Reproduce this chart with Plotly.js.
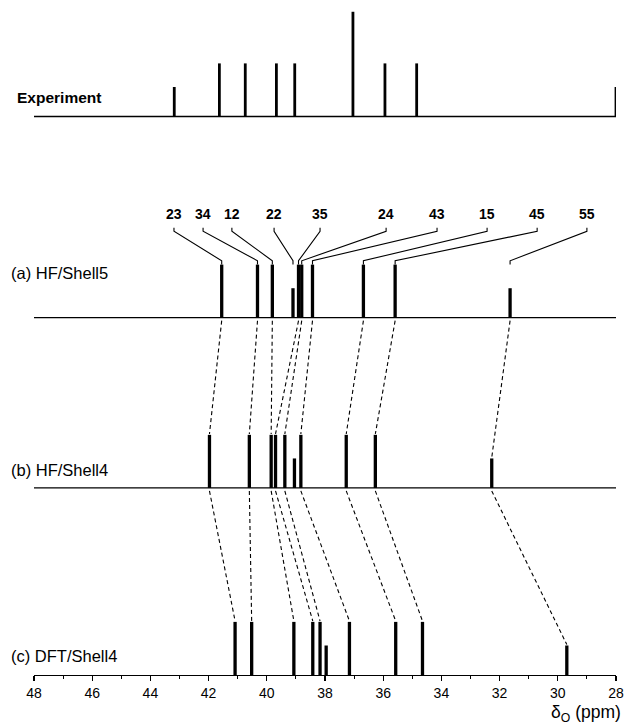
<!DOCTYPE html>
<html><head><meta charset="utf-8">
<script src="https://cdn.plot.ly/plotly-3.0.1.min.js"></script>
<style>html,body{margin:0;padding:0;background:#fff}#chart{width:626px;height:726px}</style>
</head><body><div id="chart"></div>
<script>
// ---- data ----
const oxygenLabels = ['23','34','12','22','35','24','43','15','45','55'];
const expShift     = [43.18, 41.63, 40.74, 39.67, 39.04, 37.04, 35.94, 34.85, 28.00];
const expIntensity = [1.0, 1.8, 1.8, 1.8, 1.8, 3.55, 1.8, 1.8, 1.0];
const hfShell5Shift  = [41.55, 40.32, 39.81, 39.10, 38.91, 38.80, 38.43, 36.68, 35.59, 31.64];
const hfShell4Shift  = [41.97, 40.60, 39.85, 39.05, 39.70, 39.38, 38.83, 37.27, 36.27, 32.27];
const dftShell4Shift = [41.09, 40.52, 39.07, 37.96, 38.42, 38.17, 37.16, 35.57, 34.65, 29.69];
const calcIntensity  = [1.8, 1.8, 1.8, 1.0, 1.8, 1.8, 1.8, 1.8, 1.8, 1.0];
const linked = [true, true, true, false, true, true, true, true, true, true];
const labelShift = [43.19, 42.19, 41.20, 39.75, 38.17, 35.90, 34.15, 32.43, 30.71, 29.00];
const xTicks = [48, 46, 44, 42, 40, 38, 36, 34, 32, 30, 28];

// ---- layout constants ----
const FONT = 'Liberation Sans, Arial, Helvetica, sans-serif';
const base = {exp: 18.93, a: 12.11, b: 6.34, c: 0};
const YMAX = 22.54;
const L = 34, R = 10, T = 10, B = 51, W = 626, H = 726;
const plotW = W - L - R, plotH = H - T - B;
const px2paperX = p => (p - L) / plotW;
const px2paperY = p => (H - B - p) / plotH;

function sticks(xs, hs, b0, w) {
  const x = [], y = [];
  xs.forEach((v, i) => { x.push(v, v, null); y.push(b0, b0 + hs[i], null); });
  return {type: 'scatter', mode: 'lines', x, y, line: {color: '#000', width: w},
          hoverinfo: 'skip', showlegend: false};
}
function baseline(b0) {
  return {type: 'scatter', mode: 'lines', x: [48, 28], y: [b0, b0],
          line: {color: '#000', width: 1.3}, hoverinfo: 'skip', showlegend: false};
}
function connectors(from, to, bFrom, bTo) {
  const x = [], y = [];
  from.forEach((v, i) => {
    if (!linked[i]) return;
    x.push(v, to[i], null);
    y.push(bFrom - 0.1, bTo + calcIntensity[i] + 0.03, null);
  });
  return {type: 'scatter', mode: 'lines', x, y,
          line: {color: '#000', width: 1.1, dash: '4px,3px'},
          hoverinfo: 'skip', showlegend: false};
}
function leaders() {
  const x = [], y = [];
  const yEnd = base.a + 1.8, yBend = yEnd + 0.13, yStart = yBend + 1.0, yTop = yStart + 0.12;
  hfShell5Shift.forEach((v, i) => {
    x.push(labelShift[i], labelShift[i], v, v, null);
    y.push(yTop, yStart, yBend, yEnd, null);
  });
  return {type: 'scatter', mode: 'lines', x, y, line: {color: '#000', width: 1.1},
          hoverinfo: 'skip', showlegend: false};
}

const traces = [
  baseline(base.exp), baseline(base.a), baseline(base.b),
  sticks(expShift, expIntensity, base.exp, 2.8),
  sticks(hfShell5Shift, calcIntensity, base.a, 3.3),
  sticks(hfShell4Shift, calcIntensity, base.b, 3.3),
  sticks(dftShell4Shift, calcIntensity, base.c, 3.3),
  connectors(hfShell5Shift, hfShell4Shift, base.a, base.b),
  connectors(hfShell4Shift, dftShell4Shift, base.b, base.c),
  leaders()
];

const annotations = [];
oxygenLabels.forEach((t, i) => annotations.push({
  x: labelShift[i], y: base.a + 1.8 + 0.13 + 1.0 + 0.12 + 0.48, xref: 'x', yref: 'y',
  text: '<b>' + t + '</b>', showarrow: false, xanchor: 'center', yanchor: 'middle',
  font: {family: FONT, size: 14, color: '#000'}
}));
const panelLabels = [
  {text: '<b>Experiment</b>', px: 15, py: 97, size: 15.5},
  {text: '(a) HF/Shell5', px: 9, py: 273, size: 16.5},
  {text: '(b) HF/Shell4', px: 9, py: 470, size: 16.5},
  {text: '(c) DFT/Shell4', px: 9, py: 656, size: 16.5}
];
panelLabels.forEach(p => annotations.push({
  x: px2paperX(p.px), y: px2paperY(p.py), xref: 'paper', yref: 'paper',
  text: p.text, showarrow: false, xanchor: 'left', yanchor: 'middle',
  font: {family: FONT, size: p.size, color: '#000'}
}));
annotations.push({
  x: px2paperX(623), y: px2paperY(714), xref: 'paper', yref: 'paper',
  text: 'δ<sub>O</sub> (ppm)', showarrow: false, xanchor: 'right', yanchor: 'middle',
  font: {family: FONT, size: 17.5, color: '#000'}
});

const layout = {
  width: W, height: H,
  margin: {l: L, r: R, t: T, b: B, pad: 0},
  paper_bgcolor: '#fff', plot_bgcolor: '#fff',
  showlegend: false,
  xaxis: {
    range: [48, 28], tickvals: xTicks, ticktext: xTicks.map(String),
    ticks: 'outside', ticklen: 5, tickwidth: 1.2, tickcolor: '#000',
    minor: {dtick: 1, ticks: 'outside', ticklen: 3, tickwidth: 1.1, tickcolor: '#000'},
    showline: true, linecolor: '#000', linewidth: 1.3,
    showgrid: false, zeroline: false,
    tickfont: {family: FONT, size: 14, color: '#000'},
    fixedrange: true
  },
  yaxis: {range: [0, YMAX], visible: false, fixedrange: true},
  annotations
};

Plotly.newPlot('chart', traces, layout, {displayModeBar: false, staticPlot: true});
</script>
</body></html>
